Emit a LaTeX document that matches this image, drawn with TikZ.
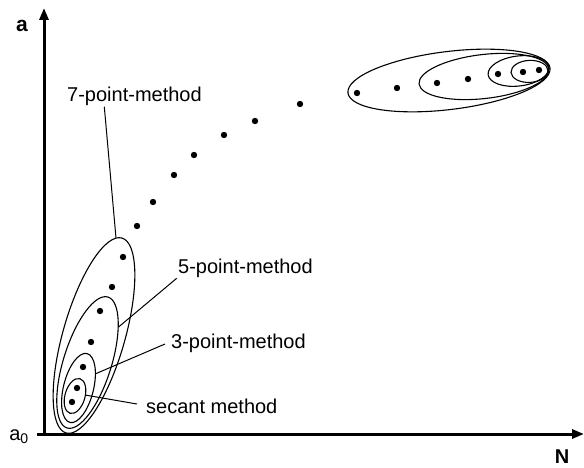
\documentclass[tikz,border=0pt]{standalone}
\usepackage{fontspec}
\setmainfont{Liberation Sans}
\usetikzlibrary{arrows.meta,shapes.geometric}

\begin{document}
\begin{tikzpicture}[x=1pt, y=1pt,
  every node/.style={font=\fontsize{20}{24}\selectfont},
  axis/.style={line width=3pt, -{Triangle[length=12pt,width=9pt]}},
  ring/.style={draw, ellipse, inner sep=0pt, line width=1.1pt},
  lead/.style={line width=1pt},
  lbl/.style={anchor=base west, inner sep=0pt},
]

\useasboundingbox (0,0) rectangle (584,467);

% ── axes ─────────────────────────────────────────────
\coordinate (ybot) at (44,31);
\coordinate (ytop) at (44,459);
\coordinate (xleft) at (37,33);
\coordinate (xright) at (584,33);
\draw[axis] (ybot) -- (ytop);
\draw[axis] (xleft) -- (xright);

\node[font=\fontsize{21}{24}\selectfont\bfseries] (alab) at (22,441) {a};
\node[font=\fontsize{20}{24}\selectfont\bfseries] (nlab) at (562,10) {N};
\node (a0lab) at (19,30) {a\textsubscript{0}};

% ── iterates ─────────────────────────────────────────
\foreach \px/\py in {72/65, 77/79, 83/100, 91/125, 100/156, 112/180,
                     123/210, 137/241, 153/265, 174/292, 194/312,
                     224/332, 255/346, 300/363,
                     357/374, 397/379, 437/384, 468/388, 498/393,
                     523/395, 539/397}
  \fill (\px,\py) circle[radius=3.2pt];

% ── stencils near a0 ─────────────────────────────────
\node[ring, minimum width=36pt,    minimum height=20pt, rotate=74]   (sec) at (75,71) {};
\node[ring, minimum width=71pt,    minimum height=30pt, rotate=76]   (m3)  at (78.5,79) {};
\node[ring, minimum width=137.2pt, minimum height=48pt, rotate=72.6] (m5)  at (87.5,104.5) {};
\node[ring, minimum width=202.8pt, minimum height=62pt, rotate=74]   (m7)  at (94,131.5) {};

% ── stencils at the far end ──────────────────────────
\node[ring, minimum width=203.6pt, minimum height=58pt, rotate=7]   (u1) at (449,386.5) {};
\node[ring, minimum width=130.8pt, minimum height=44pt, rotate=6.6] (u2) at (484,390.5) {};
\node[ring, minimum width=61.2pt,  minimum height=30pt, rotate=7]   (u3) at (518.5,396) {};
\node[ring, minimum width=37pt,    minimum height=22pt, rotate=3]   (u4) at (529.5,395.6) {};

% ── labels ───────────────────────────────────────────
\node[lbl] (lbl7)  at (67,365.3)  {7-point-method};
\node[lbl] (lbl5)  at (178,193.7) {5-point-method};
\node[lbl] (lbl3)  at (171,118.7) {3-point-method};
\node[lbl] (lblsec) at (146,53.7) {secant method};

% leader lines
\coordinate (t7)  at (116,229);
\coordinate (t5)  at (118.2,139.7);
\coordinate (t3)  at (95.3,93.1);
\coordinate (tsec) at (85.5,71.9);
\draw[lead] ([xshift=37.3pt,yshift=-5pt]lbl7.base west) -- (t7);
\draw[lead] ([xshift=-1.3pt,yshift=-5pt]lbl5.base west) -- (t5);
\draw[lead] ([xshift=-6pt,yshift=4.3pt]lbl3.base west) -- (t3);
\draw[lead] ([xshift=-9pt,yshift=9.3pt]lblsec.base west) -- (tsec);

\end{tikzpicture}
\end{document}
